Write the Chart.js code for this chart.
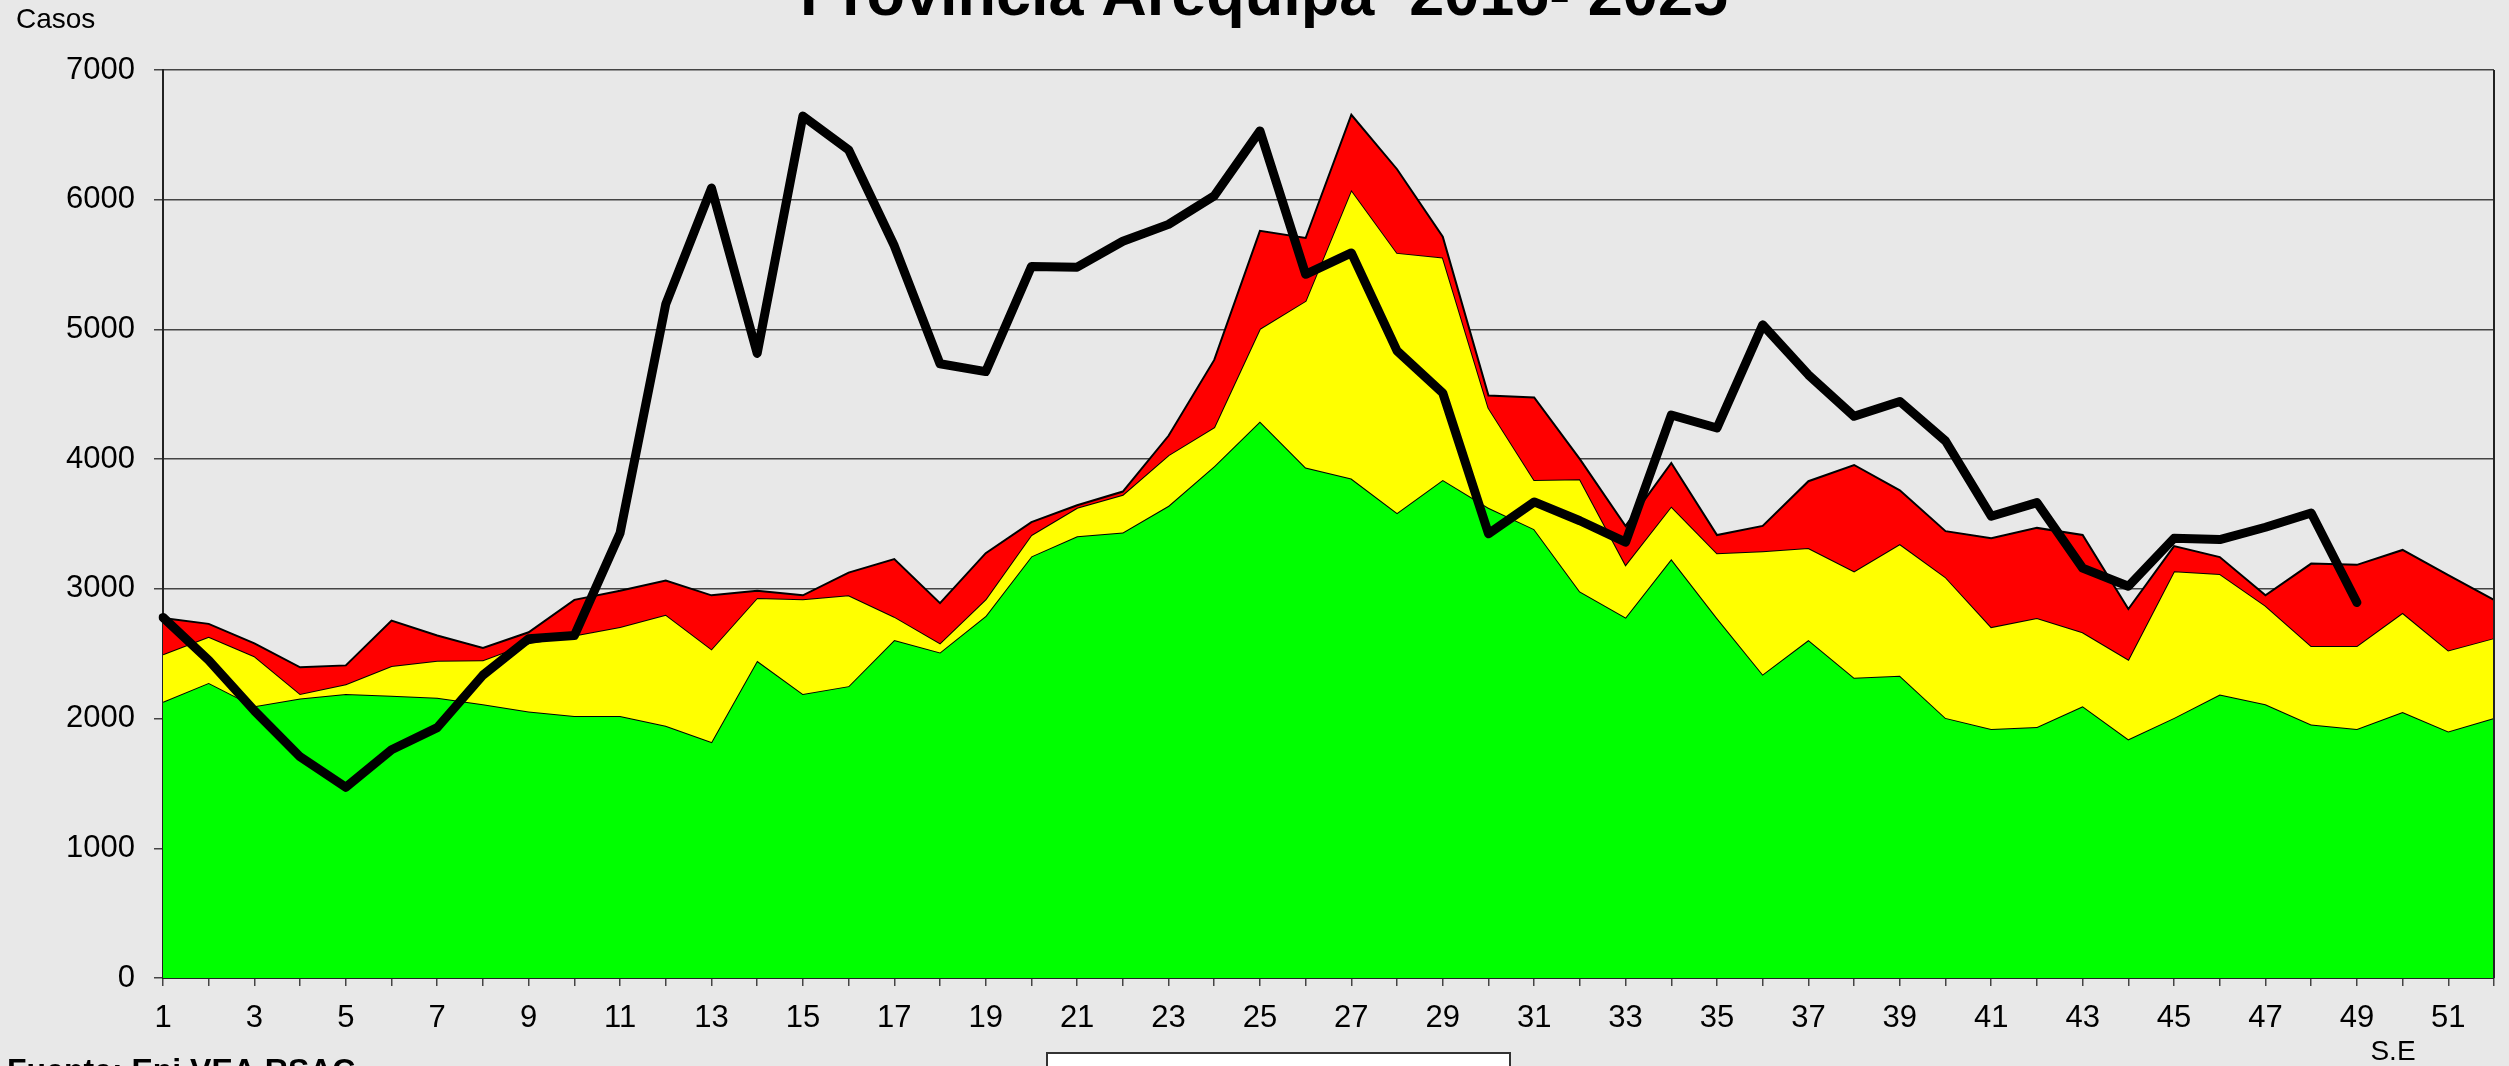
<!DOCTYPE html>
<html lang="es">
<head>
<meta charset="utf-8">
<title>Canal endémico - Provincia Arequipa</title>
<script src="https://cdn.jsdelivr.net/npm/chart.js@4/dist/chart.umd.min.js"></script>
<style>
  html, body { margin: 0; padding: 0; background: #e8e8e8; }
  #wrap { width: 2509px; height: 1066px; position: relative; }
</style>
</head>
<body>
<div id="wrap"><canvas id="canal"></canvas></div>
<script>
// Semanas epidemiológicas
const semanas = ['1','2','3','4','5','6','7','8','9','10','11','12','13','14','15','16','17','18','19','20',
  '21','22','23','24','25','26','27','28','29','30','31','32','33','34','35','36','37','38','39','40',
  '41','42','43','44','45','46','47','48','49','50','51','52'];

// Límites superiores de cada zona (valores acumulados)
const zonaExito = [2130, 2275, 2095, 2155, 2190, 2175, 2160, 2110, 2055, 2020, 2020, 1945, 1820, 2445, 2190, 2250,
  2605, 2510, 2790, 3250, 3405, 3435, 3640, 3945, 4290, 3935, 3850, 3585, 3840, 3625, 3460, 2980, 2780, 3230,
  2775, 2340, 2605, 2315, 2330, 2005, 1920, 1935, 2095, 1840, 2005, 2185, 2110, 1955, 1920, 2050, 1900, 2005];

const zonaSeguridad = [2495, 2630, 2480, 2190, 2265, 2405, 2445, 2450, 2580, 2640, 2705, 2800, 2535, 2930, 2920, 2950,
  2785, 2580, 2920, 3415, 3625, 3725, 4030, 4245, 5005, 5220, 6075, 5590, 5555, 4395, 3840, 3845, 3185, 3635,
  3275, 3290, 3315, 3135, 3345, 3090, 2705, 2775, 2665, 2455, 3135, 3115, 2870, 2560, 2560, 2815, 2525, 2620];

const zonaAlarma = [2775, 2730, 2580, 2395, 2410, 2755, 2640, 2545, 2665, 2915, 2985, 3065, 2950, 2985, 2950, 3125,
  3230, 2890, 3275, 3515, 3645, 3750, 4180, 4765, 5760, 5705, 6655, 6235, 5715, 4490, 4475, 4000, 3485, 3970,
  3415, 3485, 3830, 3955, 3760, 3445, 3390, 3470, 3415, 2845, 3330, 3245, 2950, 3195, 3185, 3300, 3105, 2915];

// Casos del año actual (hasta la SE 49)
const casos2025 = [2780, 2450, 2060, 1705, 1470, 1760, 1930, 2335, 2615, 2640, 3430, 5195, 6090, 4815, 6645, 6385,
  5645, 4735, 4675, 5485, 5480, 5680, 5810, 6030, 6530, 5425, 5590, 4835, 4510, 3425, 3670, 3525, 3360, 4340,
  4240, 5035, 4650, 4330, 4445, 4140, 3560, 3665, 3160, 3020, 3390, 3380, 3475, 3585, 2895];

const ticksY = [0, 1000, 2000, 3000, 4000, 5000, 6000, 7000];

const titulo = 'Provincia Arequipa  2016- 2025';
const etiquetaY = 'Casos';
const etiquetaX = 'S.E';
const fuente = 'Fuente: Epi VEA RSAC';

const FAMILIA = "'Liberation Sans', Arial, sans-serif";

// Textos sueltos y marco del área (fuera de lo que dibuja Chart.js)
const textosExtra = {
  id: 'textosExtra',
  afterDraw(chart) {
    const { ctx, chartArea } = chart;
    ctx.save();

    // borde derecho del área de trazado
    ctx.strokeStyle = '#222';
    ctx.lineWidth = 2;
    ctx.beginPath();
    ctx.moveTo(chartArea.right, chartArea.top);
    ctx.lineTo(chartArea.right, chartArea.bottom);
    ctx.stroke();

    ctx.fillStyle = '#000';
    ctx.textBaseline = 'alphabetic';

    ctx.font = 'bold 63px ' + FAMILIA;
    ctx.textAlign = 'center';
    ctx.fillText(titulo, 1264, 15);

    ctx.font = '28px ' + FAMILIA;
    ctx.textAlign = 'left';
    ctx.fillText(etiquetaY, 16, 28);

    ctx.textAlign = 'center';
    ctx.fillText(etiquetaX, 2393, 1060);

    ctx.font = 'bold 32px ' + FAMILIA;
    ctx.textAlign = 'left';
    ctx.fillText(fuente, 7, 1081);

    // recuadro de la leyenda (cortado abajo)
    ctx.fillStyle = '#fff';
    ctx.fillRect(1047, 1053, 463, 40);
    ctx.strokeStyle = '#333';
    ctx.lineWidth = 2;
    ctx.strokeRect(1047, 1053, 463, 40);

    ctx.restore();
  }
};

const zona = (label, data, color, fill, order) => ({
  label: label,
  data: data,
  backgroundColor: color,
  borderColor: '#000',
  borderWidth: 2,
  fill: fill,
  pointRadius: 0,
  tension: 0,
  order: order
});

new Chart(document.getElementById('canal'), {
  type: 'line',
  data: {
    labels: semanas,
    datasets: [
      zona('Éxito', zonaExito, '#00ff00', 'origin', 4),
      zona('Seguridad', zonaSeguridad, '#ffff00', '-1', 3),
      zona('Alarma', zonaAlarma, '#ff0000', '-1', 2),
      {
        label: '2025',
        data: casos2025,
        borderColor: '#000',
        borderWidth: 9,
        borderJoinStyle: 'round',
        borderCapStyle: 'round',
        fill: false,
        pointRadius: 0,
        tension: 0,
        order: 1
      }
    ]
  },
  options: {
    responsive: true,
    maintainAspectRatio: false,
    animation: false,
    layout: { padding: { left: 66, right: 15, top: 70, bottom: 0 } },
    plugins: {
      legend: { display: false },
      title: { display: false },
      tooltip: { enabled: false }
    },
    scales: {
      x: {
        offset: false,
        afterFit: (scale) => { scale.height = 88; },
        border: { display: true, color: '#222', width: 2 },
        grid: { drawOnChartArea: false, drawTicks: true, tickLength: 8, color: '#444', lineWidth: 1.5 },
        ticks: {
          autoSkip: false,
          maxRotation: 0,
          padding: 14,
          color: '#000',
          font: { family: FAMILIA, size: 31 },
          callback: function (val, i) {
            return i % 2 === 0 ? this.getLabelForValue(val) : '';
          }
        }
      },
      y: {
        min: 0,
        max: 7000,
        afterFit: (scale) => { scale.width = 97; },
        afterBuildTicks: (scale) => { scale.ticks = ticksY.map(v => ({ value: v })); },
        border: { display: true, color: '#222', width: 2 },
        grid: { color: '#444', lineWidth: 1.5, tickLength: 9 },
        ticks: {
          padding: 19,
          color: '#000',
          font: { family: FAMILIA, size: 31 },
          callback: (v) => String(v)
        }
      }
    }
  },
  plugins: [textosExtra]
});
</script>
</body>
</html>
